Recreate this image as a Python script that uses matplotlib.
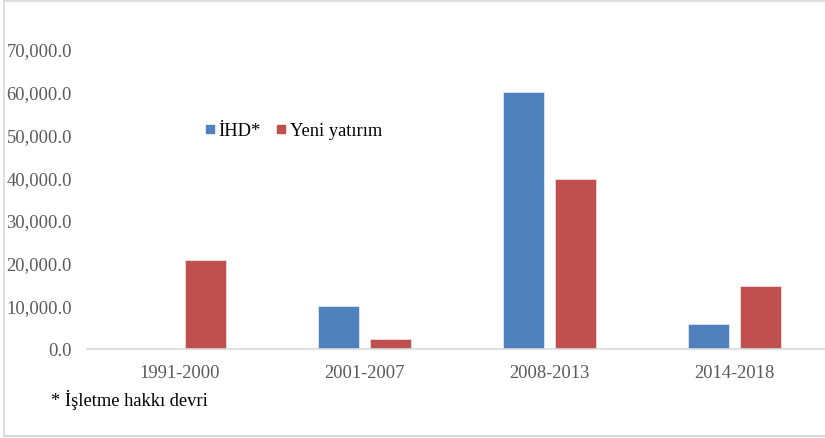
import numpy as np
import matplotlib.pyplot as plt
from matplotlib.lines import Line2D

# data
periods = ['1991-2000', '2001-2007', '2008-2013', '2014-2018']
ihd = [0, 10100, 60050, 5850]
yeni = [20800, 2350, 39750, 14900]
yticks = [0, 10000, 20000, 30000, 40000, 50000, 60000, 70000]

blue = '#4F81BD'
red = '#C0504D'
grey = '#595959'

plt.rcParams['font.family'] = ['Liberation Serif', 'DejaVu Serif']

fig = plt.figure(figsize=(8.25, 4.38), dpi=100)
ax = fig.add_axes([86.5 / 825, 88.7 / 438, 741 / 825, 299.6 / 438])

x = np.arange(len(periods))
w = 0.221
off = 0.14
ax.bar(x - off, ihd, w, color=blue, edgecolor='#dce6f2', linewidth=0.6, label='İHD*')
ax.bar(x + off, yeni, w, color=red, edgecolor='#f2dcdb', linewidth=0.6, label='Yeni yatırım')

ax.set_xlim(-0.5, 3.5)
ax.set_ylim(0, 70000)
ax.set_yticks(yticks)
ax.set_yticklabels(['{:,.1f}'.format(v) for v in yticks])
ax.set_xticks(x)
ax.set_xticklabels(periods)

for s in ['top', 'right', 'left']:
    ax.spines[s].set_visible(False)
ax.spines['bottom'].set_color('#d9d9d9')
ax.spines['bottom'].set_linewidth(1.2)
ax.tick_params(axis='y', length=0, pad=10.4, labelsize=13.3, labelcolor=grey)
ax.tick_params(axis='x', length=0, pad=11.5, labelsize=13.3, labelcolor=grey)

handles = [Line2D([], [], ls='', marker='s', markersize=6, color=blue),
           Line2D([], [], ls='', marker='s', markersize=6, color=red)]
fig.legend(handles, ['İHD*', 'Yeni yatırım'], loc='center', bbox_to_anchor=(294 / 825, 1 - 131 / 438),
           ncol=2, frameon=False, fontsize=13.3, handlelength=0.45, handletextpad=0.25,
           columnspacing=0.9)

fig.text(51 / 825, 1 - 400 / 438, '* İşletme hakkı devri', fontsize=13.3, color='black',
         ha='left', va='center')

# outer border of the picture
fig.add_artist(Line2D([3.5 / 825, 3.5 / 825], [1 - 436 / 438, 1.0], transform=fig.transFigure,
                      color='#d9d9d9', lw=1.2))
fig.add_artist(Line2D([3.5 / 825, 1.0], [1 - 0.8 / 438, 1 - 0.8 / 438], transform=fig.transFigure,
                      color='#d9d9d9', lw=1.2))
fig.add_artist(Line2D([3.5 / 825, 1.0], [1 - 436 / 438, 1 - 436 / 438], transform=fig.transFigure,
                      color='#d9d9d9', lw=1.5))

fig.savefig('out.png', dpi=100)
